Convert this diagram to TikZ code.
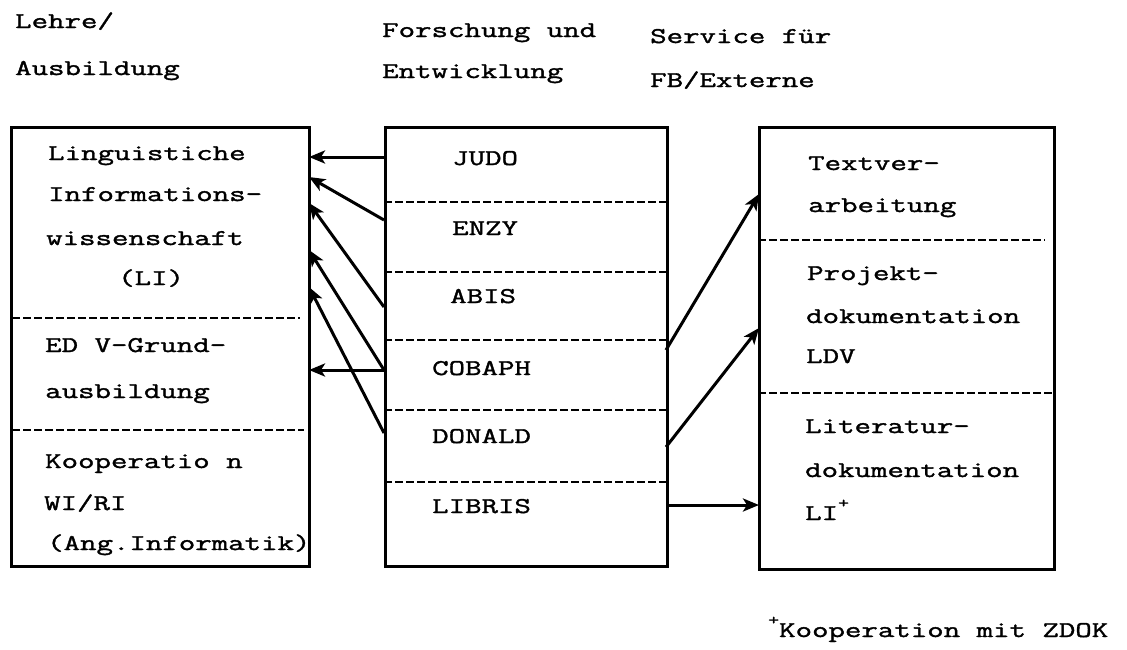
\documentclass[tikz,border=0pt]{standalone}
\usepackage{fontspec}
\setmainfont{Latin Modern Mono}[FakeStretch=1.42, FakeBold=1.6]
\usetikzlibrary{arrows.meta}
\begin{document}
\begin{tikzpicture}[x=1pt,y=-1pt,
  txt/.style={font=\fontsize{22.5}{42}\selectfont, inner sep=0pt, anchor=base west},
  box/.style={draw, line width=2.6pt, inner sep=0pt, anchor=north west},
  sep/.style={line width=2.2pt, dash pattern=on 8pt off 3pt},
  arr/.style={-{Stealth[length=16pt,width=13pt,inset=4pt]}, line width=3pt}]
\useasboundingbox (0,0) rectangle (1127,649);
% headers
\node[txt] (h1a) at (15,28) {Lehre/};
\node[txt] (h1b) at (15,75) {Ausbildung};
\node[txt] (h2a) at (382,37) {Forschung und};
\node[txt] (h2b) at (382,78) {Entwicklung};
\node[txt] (h3a) at (650,43) {Service für};
\node[txt] (h3b) at (650,87) {FB/Externe};
% boxes
\node[box, minimum width=298pt, minimum height=439pt] (L) at (10,126) {};
\node[box, minimum width=282pt, minimum height=439pt] (M) at (384,126) {};
\node[box, minimum width=295pt, minimum height=442pt] (R) at (758,126) {};
% dividers
\draw[sep] (12,318) -- (300,318);
\draw[sep] (12,430) -- (304,430);
\foreach \yy in {202,272,340,410,482} \draw[sep] (384,\yy) -- (666,\yy);
\draw[sep] (758,240) -- (1045,240);
\draw[sep] (758,393) -- (1056,393);
% left texts
\node[txt] (l1) at (48,160) {Linguistiche};
\node[txt] (l2) at (48,201) {Informations-};
\node[txt] (l3) at (46,245) {wissenschaft};
\node[txt] (l4) at (118,285) {(LI)};
\node[txt] (l5) at (45,352) {ED V-Grund-};
\node[txt] (l6) at (45,398) {ausbildung};
\node[txt] (l7) at (45,468) {Kooperatio n};
\node[txt] (l8) at (44,510) {WI/RI};
\node[txt] (l9) at (47,550) {(Ang.Informatik)};
% middle texts
\node[txt] (m1) at (452,165) {JUDO};
\node[txt] (m2) at (452,235) {ENZY};
\node[txt] (m3) at (450,303) {ABIS};
\node[txt] (m4) at (432,375) {COBAPH};
\node[txt] (m5) at (432,443) {DONALD};
\node[txt] (m6) at (432,513) {LIBRIS};
% right texts
\node[txt] (r1) at (808,170) {Textver-};
\node[txt] (r2) at (808,212) {arbeitung};
\node[txt] (r3) at (807,280) {Projekt-};
\node[txt] (r4) at (806,323) {dokumentation};
\node[txt] (r5) at (806,363) {LDV};
\node[txt] (r6) at (805,433) {Literatur-};
\node[txt] (r7) at (805,477) {dokumentation};
\node[txt] (r8) at (805,520) {LI\raisebox{0.55em}{\fontsize{15}{15}\selectfont +}};
% footnote
\node[txt] (fn) at (768,637) {\raisebox{0.55em}{\fontsize{15}{15}\selectfont +}Kooperation mit ZDOK};
% connector end points
\coordinate (ms1) at (384,157);
\coordinate (ms2) at (384,220);
\coordinate (ms3) at (384,307);
\coordinate (ms4) at (384,370);
\coordinate (ms5) at (384,433);
\coordinate (lt1) at (309,157);
\coordinate (lt2) at (309,177);
\coordinate (lt3) at (309,203);
\coordinate (lt4) at (309,250);
\coordinate (lt5) at (309,370);
\coordinate (lt6) at (309,287);
\coordinate (me1) at (666,350);
\coordinate (me2) at (666,447);
\coordinate (me3) at (666,505);
\coordinate (rt1) at (759,194);
\coordinate (rt2) at (759,328);
\coordinate (rt3) at (759,505);
% arrows
\draw[arr] (ms1) -- (lt1);
\draw[arr] (ms2) -- (lt2);
\draw[arr] (ms3) -- (lt3);
\draw[arr] (ms4) -- (lt4);
\draw[arr] (ms4) -- (lt5);
\draw[arr] (ms5) -- (lt6);
\draw[arr] (me1) -- (rt1);
\draw[arr] (me2) -- (rt2);
\draw[arr] (me3) -- (rt3);
\end{tikzpicture}
\end{document}
